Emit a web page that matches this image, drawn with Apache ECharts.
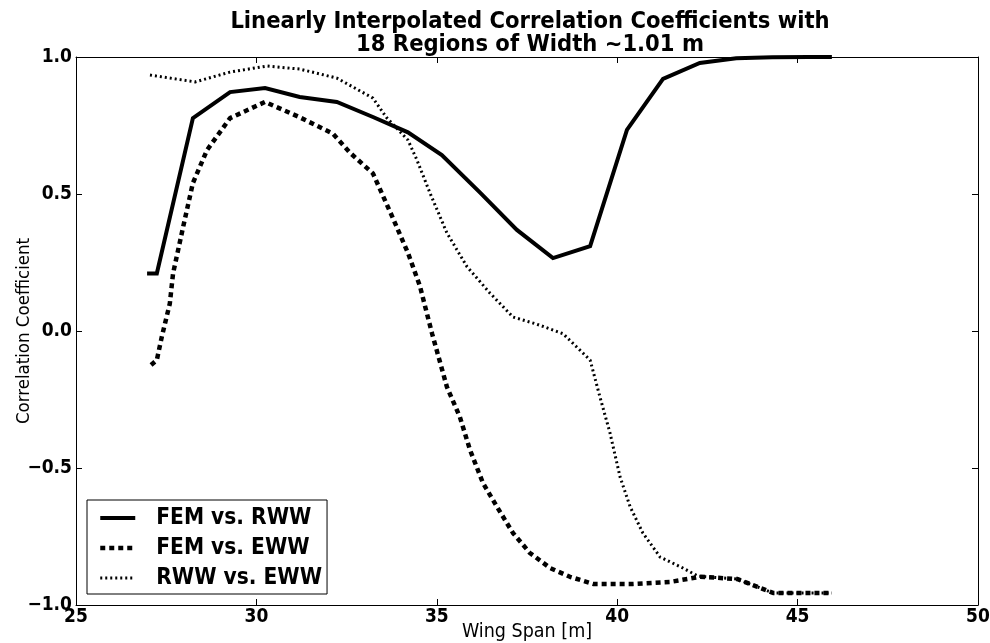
<!DOCTYPE html>
<html>
<head>
<meta charset="utf-8">
<script src="https://cdn.jsdelivr.net/npm/echarts@6/dist/echarts.min.js"></script>
<style>html,body{margin:0;padding:0;background:#fff;}#c{width:990px;height:643px;}</style>
</head>
<body>
<div id="c"></div>
<script>
const titleText = "Linearly Interpolated Correlation Coefficients with\n18 Regions of Width ~1.01 m";
const seriesNames = ["FEM vs. RWW", "FEM vs. EWW", "RWW vs. EWW"];
const xTicks = [25, 30, 35, 40, 45, 50];
const yTicks = [-1.0, -0.5, 0.0, 0.5, 1.0];

const femRwwX = [26.97, 27.24, 28.24, 29.27, 30.24, 31.2, 32.23, 33.23, 34.2, 35.14, 36.2, 37.22, 38.22, 39.25, 40.27, 41.27, 42.29, 43.3, 44.3, 45.3, 45.95];
const femRwwY = [0.21, 0.21, 0.777, 0.872, 0.887, 0.854, 0.836, 0.781, 0.725, 0.642, 0.505, 0.369, 0.266, 0.31, 0.734, 0.92, 0.978, 0.995, 0.999, 1.0, 1.0];

const femEwwX = [27.08, 27.24, 27.38, 27.6, 27.69, 27.97, 28.24, 28.63, 29.27, 30.24, 31.2, 32.12, 32.6, 33.23, 33.79, 34.2, 34.53, 34.87, 35.28, 35.64, 35.92, 36.28, 36.67, 37.11, 37.58, 38.14, 38.69, 39.33, 40.44, 41.46, 42.29, 43.32, 44.32, 45.95];
const femEwwY = [-0.124, -0.106, -0.02, 0.10, 0.21, 0.38, 0.54, 0.66, 0.777, 0.836, 0.78, 0.72, 0.65, 0.575, 0.41, 0.285, 0.165, -0.01, -0.204, -0.314, -0.434, -0.555, -0.642, -0.737, -0.81, -0.865, -0.897, -0.923, -0.923, -0.916, -0.897, -0.905, -0.956, -0.956];

const rwwEwwX = [27.05, 28.3, 29.27, 30.29, 31.2, 32.23, 33.23, 33.6, 34.2, 34.45, 34.81, 35.28, 35.84, 36.47, 37.11, 37.77, 38.5, 39.25, 39.52, 39.8, 40.08, 40.36, 40.71, 41.19, 41.82, 42.24, 42.77, 43.32, 44.32, 45.95];
const rwwEwwY = [0.934, 0.909, 0.945, 0.967, 0.956, 0.923, 0.85, 0.78, 0.697, 0.624, 0.504, 0.358, 0.234, 0.139, 0.051, 0.025, -0.01, -0.106, -0.24, -0.372, -0.533, -0.642, -0.737, -0.825, -0.865, -0.895, -0.9, -0.905, -0.956, -0.956];

function pairs(xs, ys) { return xs.map((x, i) => [x, ys[i]]); }

const FONT = "'DejaVu Sans Condensed', 'DejaVu Sans', sans-serif";
const chart = echarts.init(document.getElementById('c'), null, {renderer: 'canvas'});

const baseAxis = {
  axisLine: {show: true, onZero: false, lineStyle: {color: '#000', width: 1}},
  axisTick: {show: true, inside: true, length: 6, lineStyle: {color: '#000', width: 1}},
  splitLine: {show: false}
};

const lineStyles = [
  {color: '#000', width: 4, type: 'solid'},
  {color: '#000', width: 4.5, type: [5, 4]},
  {color: '#000', width: 3, type: [2, 3]}
];

chart.setOption({
  animation: false,
  backgroundColor: '#fff',
  title: {
    text: titleText,
    left: 525, top: 6, textAlign: 'center',
    textStyle: {fontFamily: FONT, fontWeight: 'bold', fontSize: 23.5, color: '#000', lineHeight: 22.5}
  },
  grid: {left: 76, right: 12, top: 57, bottom: 38, containLabel: false, outerBoundsMode: 'none'},
  legend: {
    orient: 'vertical', left: 87, top: 500,
    data: seriesNames.map((n, i) => ({name: n, lineStyle: lineStyles[i]})),
    itemWidth: 35, itemHeight: 10, itemGap: 6,
    padding: [6, 5, 4, 11],
    itemStyle: {opacity: 0},
    borderColor: '#000', borderWidth: 1, borderRadius: 0,
    backgroundColor: '#fff',
    textStyle: {fontFamily: FONT, fontWeight: 'bold', fontSize: 22.5, lineHeight: 24, color: '#000', padding: [0, 0, 0, 16]}
  },
  xAxis: [
    Object.assign({}, baseAxis, {
      type: 'value', min: 25, max: 50, interval: 5, position: 'bottom',
      name: 'Wing Span [m]', nameLocation: 'middle', nameGap: 17, nameMoveOverlap: false,
      nameTextStyle: {fontFamily: FONT, fontSize: 19.5, color: '#000', verticalAlign: 'top'},
      axisLabel: {fontFamily: FONT, fontWeight: 'bold', fontSize: 19, color: '#000', margin: 3,
        formatter: v => xTicks.includes(v) ? String(v) : ''}
    }),
    Object.assign({}, baseAxis, {
      type: 'value', min: 25, max: 50, interval: 5, position: 'top', axisLabel: {show: false}
    })
  ],
  yAxis: [
    Object.assign({}, baseAxis, {
      type: 'value', min: -1, max: 1, interval: 0.5, position: 'left',
      name: 'Correlation Coefficient', nameLocation: 'middle', nameGap: 42, nameRotate: 90, nameMoveOverlap: false,
      nameTextStyle: {fontFamily: FONT, fontSize: 18.5, color: '#000'},
      axisLabel: {fontFamily: FONT, fontWeight: 'bold', fontSize: 19, color: '#000', margin: 4,
        formatter: v => (v < 0 ? '\u2212' : '') + Math.abs(v).toFixed(1)}
    }),
    Object.assign({}, baseAxis, {
      type: 'value', min: -1, max: 1, interval: 0.5, position: 'right', axisLabel: {show: false}
    })
  ],
  series: [
    {name: seriesNames[0], type: 'line', data: pairs(femRwwX, femRwwY), symbol: 'none', z: 3,
      lineStyle: Object.assign({join: 'miter'}, lineStyles[0]), itemStyle: {color: '#000'}},
    {name: seriesNames[1], type: 'line', data: pairs(femEwwX, femEwwY), symbol: 'none', z: 2,
      lineStyle: lineStyles[1], itemStyle: {color: '#000'}},
    {name: seriesNames[2], type: 'line', data: pairs(rwwEwwX, rwwEwwY), symbol: 'none', z: 1,
      lineStyle: lineStyles[2], itemStyle: {color: '#000'}}
  ]
});
</script>
</body>
</html>
